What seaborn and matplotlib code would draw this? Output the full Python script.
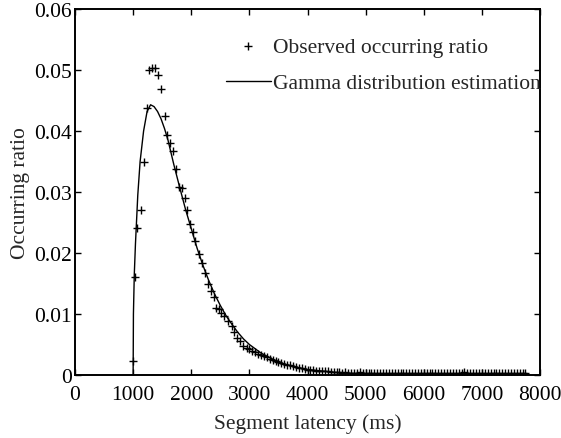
import matplotlib
matplotlib.use("Agg")
import matplotlib.pyplot as plt
import seaborn as sns
import pandas as pd

# Observed occurring ratio
obs_x = [1000, 1025, 1075, 1135, 1190, 1235, 1280, 1320, 1375, 1435, 1485, 1550,
         1580, 1630, 1690, 1735, 1785, 1835, 1890, 1930, 1985, 2035, 2070, 2135,
         2190, 2245, 2285, 2340, 2390, 2430, 2475, 2520, 2565, 2630, 2695, 2740,
         2785, 2840, 2895, 2955, 3000, 3050, 3100, 3150, 3200, 3250, 3300, 3350,
         3400, 3450, 3500, 3550, 3600, 3650, 3700, 3750, 3800, 3850, 3900, 3950,
         4000, 4050, 4100, 4150, 4200, 4250, 4300, 4350, 4400, 4450, 4500, 4550,
         4600, 4650, 4700, 4750, 4800, 4850, 4900, 4950, 5000, 5050, 5100, 5150,
         5200, 5250, 5300, 5350, 5400, 5450, 5500, 5550, 5600, 5650, 5700, 5750,
         5800, 5850, 5900, 5950, 6000, 6050, 6100, 6150, 6200, 6250, 6300, 6350,
         6400, 6450, 6500, 6550, 6600, 6650, 6700, 6750, 6800, 6850, 6900, 6950,
         7000, 7050, 7100, 7150, 7200, 7250, 7300, 7350, 7400, 7450, 7500, 7550,
         7600, 7650, 7700, 7750]
obs_y = [0.0023, 0.0160, 0.0241, 0.0270, 0.0349, 0.0438, 0.0500, 0.0503, 0.0504, 0.0492, 0.0469, 0.0424,
         0.0394, 0.0380, 0.0368, 0.0338, 0.0308, 0.0307, 0.0290, 0.0271, 0.0247, 0.0234, 0.0219, 0.0198,
         0.0183, 0.0168, 0.0149, 0.0138, 0.0128, 0.0110, 0.0109, 0.0102, 0.0096, 0.0089, 0.0081, 0.0071,
         0.0061, 0.0055, 0.0048, 0.0044, 0.0042, 0.0040, 0.0038, 0.0035, 0.0033, 0.0031, 0.0029, 0.0027,
         0.0025, 0.0023, 0.0021, 0.0019, 0.0018, 0.0017, 0.0016, 0.0014, 0.0013, 0.0012, 0.0011, 0.0010,
         0.0009, 0.0008, 0.0008, 0.0007, 0.0007, 0.0006, 0.0006, 0.0006, 0.0005, 0.0005, 0.0005, 0.0005,
         0.0004, 0.0005, 0.0004, 0.0004, 0.0004, 0.0004, 0.0005, 0.0004, 0.0004, 0.0004, 0.0003, 0.0004,
         0.0004, 0.0004, 0.0004, 0.0003, 0.0004, 0.0004, 0.0004, 0.0003, 0.0004, 0.0004, 0.0004, 0.0004,
         0.0003, 0.0004, 0.0004, 0.0004, 0.0004, 0.0003, 0.0004, 0.0004, 0.0004, 0.0004, 0.0003, 0.0004,
         0.0004, 0.0004, 0.0004, 0.0003, 0.0004, 0.0004, 0.0005, 0.0004, 0.0004, 0.0003, 0.0004, 0.0004,
         0.0004, 0.0004, 0.0003, 0.0004, 0.0004, 0.0004, 0.0003, 0.0004, 0.0004, 0.0004, 0.0003, 0.0004,
         0.0003, 0.0004, 0.0003, 0.0003]

# Gamma distribution estimation
fit_x = [1000, 1005, 1020, 1040, 1080, 1120, 1180, 1240, 1300, 1360, 1420, 1480,
         1540, 1600, 1700, 1800, 1900, 2000, 2100, 2200, 2300, 2400, 2500, 2600,
         2700, 2800, 2900, 3000, 3200, 3400, 3600, 3800, 4000, 4500, 5000, 6000,
         7000, 7800]
fit_y = [0.0, 0.0100, 0.0165, 0.0215, 0.0295, 0.0350, 0.0400, 0.0432, 0.0443, 0.0440, 0.0432, 0.0420,
         0.0404, 0.0385, 0.0345, 0.0308, 0.0272, 0.0240, 0.0208, 0.0180, 0.0155, 0.0133, 0.0114, 0.0097,
         0.0083, 0.0070, 0.0059, 0.0050, 0.0036, 0.0026, 0.0018, 0.0013, 0.0009, 0.0004, 0.00015, 0.00003,
         0.0, 0.0]

x_ticks = [0, 1000, 2000, 3000, 4000, 5000, 6000, 7000, 8000]
y_ticks = [0, 0.01, 0.02, 0.03, 0.04, 0.05, 0.06]
y_tick_labels = ["0", "0.01", "0.02", "0.03", "0.04", "0.05", "0.06"]

obs = pd.DataFrame({"x": obs_x, "y": obs_y})
fit = pd.DataFrame({"x": fit_x, "y": fit_y})

sns.set_style("ticks")
plt.rcParams["font.family"] = ["Liberation Serif", "DejaVu Serif"]

FS = 15.5
fig = plt.figure(figsize=(5.61, 4.39), dpi=100)
ax = fig.add_axes([0.1337, 0.1435, 0.8289, 0.8337])

sns.scatterplot(data=obs, x="x", y="y", marker="+", s=28, color="black",
                linewidth=1.0, ax=ax, label="Observed occurring ratio", zorder=3)
sns.lineplot(data=fit, x="x", y="y", color="black", linewidth=1.0, ax=ax,
             label="Gamma distribution estimation", zorder=2)

ax.set_xlim(0, 8000)
ax.set_ylim(0, 0.06)
ax.set_xticks(x_ticks)
ax.set_xticklabels([str(t) for t in x_ticks])
ax.set_yticks(y_ticks)
ax.set_yticklabels(y_tick_labels)
ax.tick_params(direction="in", top=True, right=True, length=4, width=1.0,
               labelsize=FS, colors="black")
ax.tick_params(axis="x", pad=7)
ax.tick_params(axis="y", pad=2)
for s in ax.spines.values():
    s.set_linewidth(1.4)
    s.set_color("black")

ax.set_xlabel("Segment latency (ms)", fontsize=FS, labelpad=7)
ax.set_ylabel("Occurring ratio", fontsize=FS, labelpad=3)

leg = ax.legend(loc="upper left", bbox_to_anchor=(0.324, 0.925), frameon=False,
                fontsize=FS, handlelength=2.1, handletextpad=0.12,
                labelspacing=0.78, borderpad=0, borderaxespad=0, markerscale=1.0)

fig.savefig("out.png", dpi=100)
